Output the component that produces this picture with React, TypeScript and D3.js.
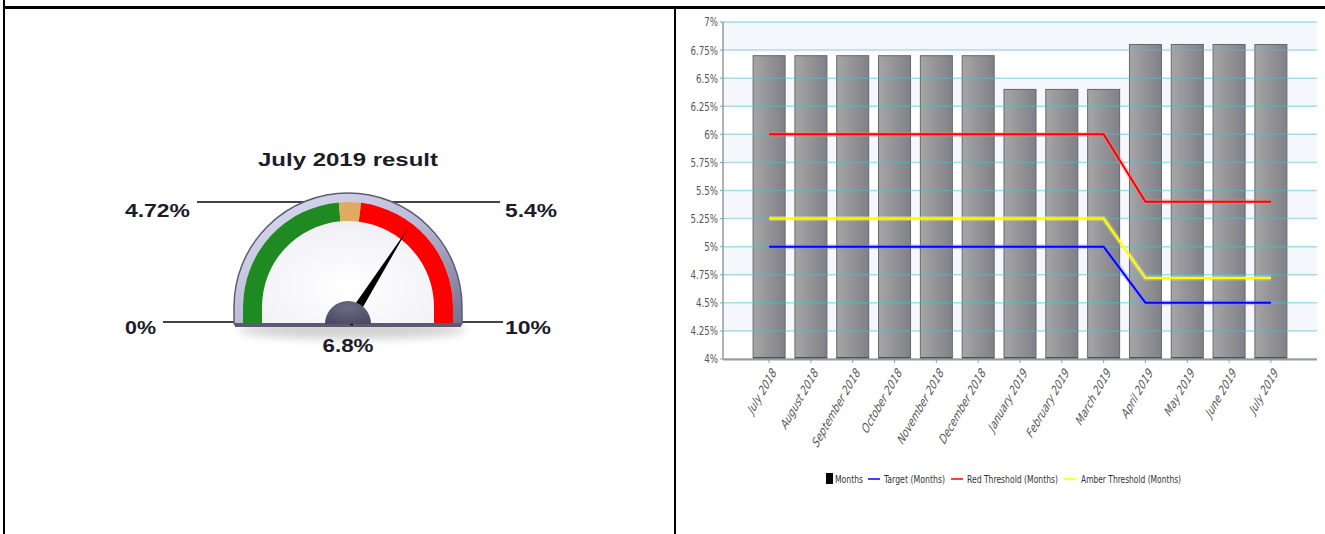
import React from "react";
import * as d3 from "d3";

// ---------- Data ----------
const months = [
  "July 2018", "August 2018", "September 2018", "October 2018", "November 2018",
  "December 2018", "January 2019", "February 2019", "March 2019", "April 2019",
  "May 2019", "June 2019", "July 2019",
];
const monthValues = [6.7, 6.7, 6.7, 6.7, 6.7, 6.7, 6.4, 6.4, 6.4, 6.8, 6.8, 6.8, 6.8];
const targetValues = [5, 5, 5, 5, 5, 5, 5, 5, 5, 4.5, 4.5, 4.5, 4.5];
const redValues = [6, 6, 6, 6, 6, 6, 6, 6, 6, 5.4, 5.4, 5.4, 5.4];
const amberValues = [5.25, 5.25, 5.25, 5.25, 5.25, 5.25, 5.25, 5.25, 5.25, 4.72, 4.72, 4.72, 4.72];
const yTicks = [4, 4.25, 4.5, 4.75, 5, 5.25, 5.5, 5.75, 6, 6.25, 6.5, 6.75, 7];
const legendItems = ["Months", "Target (Months)", "Red Threshold (Months)", "Amber Threshold (Months)"];

const gaugeTitle = "July 2019 result";
const gaugeMin = 0;
const gaugeMax = 10;
const gaugeAmber = 4.72;
const gaugeRed = 5.4;
const gaugeValue = 6.8;

const CONDENSED = "'DejaVu Sans Condensed', 'DejaVu Sans', sans-serif";
const ARIAL = "'Liberation Sans', Arial, sans-serif";

function BarChart() {
  const left = 723, right = 1317, top = 22, bottom = 359;
  const x = d3.scaleBand<string>().domain(months).range([left, right]).paddingInner(0.235).paddingOuter(0.72);
  const y = d3.scaleLinear().domain([4, 7]).range([bottom, top]);
  const cx = (m: string) => (x(m) as number) + x.bandwidth() / 2;
  const line = d3.line<number>().x((_, i) => cx(months[i])).y((v) => y(v));
  const series = [
    { vals: redValues, color: "#ff0000", glow: "#ff8080" },
    { vals: amberValues, color: "#ffff00", glow: "#ffff90" },
    { vals: targetValues, color: "#0000ff", glow: "#8080ff" },
  ];
  const lineColors = ["#0000ff", "#ff0000", "#ffff00"];
  const legendX = [835, 884, 967, 1081];
  const legendLen = [28, 61, 91, 100];
  const legendLineX = [868, 951, 1064];
  return (
    <g>
      <defs>
        <linearGradient id="barGrad" x1="0" x2="1" y1="0" y2="0">
          <stop offset="0" stopColor="#a2a2a2" />
          <stop offset="1" stopColor="#7a7a82" />
        </linearGradient>
      </defs>
      {yTicks.slice(0, -1).map((t, i) => {
        const topBandIdx = yTicks.length - 2 - i;
        return topBandIdx % 2 === 0 ? (
          <rect key={"b" + i} x={left} y={y(yTicks[i + 1])} width={right - left} height={y(t) - y(yTicks[i + 1])} fill="#f5f7fd" />
        ) : null;
      })}
      {monthValues.map((v, i) => (
        <g key={"bar" + i}>
          <rect x={x(months[i])} y={y(v)} width={x.bandwidth()} height={y(4) - y(v)} fill="url(#barGrad)" stroke="#5e5e66" strokeWidth={1} opacity={0.95} />
          <rect x={x(months[i])} y={y(4) - 2} width={x.bandwidth()} height={2} fill="#505058" />
        </g>
      ))}
      {yTicks.map((t) => (
        <line key={"g" + t} x1={left} x2={right} y1={y(t)} y2={y(t)} stroke="#4cc0d4" strokeOpacity={0.5} strokeWidth={1.5} />
      ))}
      <line x1={left} x2={left} y1={top} y2={bottom} stroke="#999" strokeWidth={1.5} />
      <line x1={left} x2={right} y1={bottom + 0.5} y2={bottom + 0.5} stroke="#9a9a9a" strokeWidth={2} />
      {yTicks.map((t) => (
        <g key={"yt" + t}>
          <line x1={left - 3} x2={left} y1={y(t)} y2={y(t)} stroke="#999" />
          <text transform={`translate(${left - 5},${y(t)}) scale(0.92,1.2)`} dy="0.35em" textAnchor="end" fontFamily={CONDENSED} fontSize={10.5} fill="#555">
            {String(t) + "%"}
          </text>
        </g>
      ))}
      {months.map((m) => (
        <g key={"xt" + m}>
          <line x1={cx(m)} x2={cx(m)} y1={bottom + 1} y2={bottom + 4} stroke="#999" />
          <text transform={`translate(${cx(m) + 5},${bottom + 11}) rotate(-60) skewX(-14)`} textAnchor="end" dy="0.35em" fontFamily={CONDENSED} fontStyle="oblique" fontSize={11.5} fill="#555">
            {m}
          </text>
        </g>
      ))}
      {series.map((s, i) => (
        <g key={"ln" + i}>
          <path d={line(s.vals) as string} fill="none" stroke={s.glow} strokeOpacity={0.35} strokeWidth={5} />
          <path d={line(s.vals) as string} fill="none" stroke={s.color} strokeWidth={2} />
        </g>
      ))}
      <rect x={826} y={473} width={7} height={11} fill="#000" />
      {legendItems.map((t, i) => (
        <text key={"lg" + i} x={legendX[i]} y={483} fontFamily={CONDENSED} fontSize={11} fill="#333" textLength={legendLen[i]} lengthAdjust="spacingAndGlyphs">
          {t}
        </text>
      ))}
      {legendLineX.map((lx, i) => (
        <line key={"ll" + i} x1={lx} x2={lx + 12} y1={479} y2={479} stroke={lineColors[i]} strokeWidth={1.5} />
      ))}
    </g>
  );
}

function Gauge() {
  const cx = 348, cy = 307, baseY = 324;
  const R = 114, rOut = 105, rIn = 86;
  const ang = d3.scaleLinear().domain([gaugeMin, gaugeMax]).range([-Math.PI / 2, Math.PI / 2]);
  const arc = d3.arc<any>();
  const band = (a: number, b: number) => arc({ innerRadius: rIn, outerRadius: rOut, startAngle: ang(a), endAngle: ang(b) }) as string;
  const bezel = `M${cx - R},${baseY - 2} L${cx - R},${cy} A${R},${R} 0 0 1 ${cx + R},${cy} L${cx + R},${baseY - 2} Q${cx + R},${baseY + 2} ${cx + R - 4},${baseY + 2} L${cx - R + 4},${baseY + 2} Q${cx - R},${baseY + 2} ${cx - R},${baseY - 2} Z`;
  const face = `M${cx - rOut},${baseY} L${cx - rOut},${cy} A${rOut},${rOut} 0 0 1 ${cx + rOut},${cy} L${cx + rOut},${baseY} Z`;
  const a = ang(gaugeValue);
  const px = cx, py = baseY - 1, L = 112, w = 5;
  const tipX = px + L * Math.sin(a), tipY = py - L * Math.cos(a);
  const bx1 = px + w * Math.cos(a), by1 = py + w * Math.sin(a);
  const bx2 = px - w * Math.cos(a), by2 = py - w * Math.sin(a);
  return (
    <g>
      <defs>
        <linearGradient id="bezelGrad" x1="0" y1="0" x2="1" y2="1">
          <stop offset="0" stopColor="#e0e0f6" />
          <stop offset="0.5" stopColor="#bcbcd8" />
          <stop offset="1" stopColor="#70708c" />
        </linearGradient>
        <radialGradient id="faceGrad" cx="0.5" cy="0.7" r="0.7">
          <stop offset="0" stopColor="#ffffff" />
          <stop offset="0.6" stopColor="#f4f4f8" />
          <stop offset="1" stopColor="#e6e6ee" />
        </radialGradient>
        <radialGradient id="hubGrad" cx="0.5" cy="0.3" r="0.8">
          <stop offset="0" stopColor="#6a6a82" />
          <stop offset="1" stopColor="#484860" />
        </radialGradient>
        <filter id="shadow" x="-20%" y="-20%" width="140%" height="160%">
          <feGaussianBlur stdDeviation="5" />
        </filter>
      </defs>
      <text x={cx} y={166} textAnchor="middle" fontFamily={ARIAL} fontWeight="bold" fontSize={19} fill="#1c1c28" textLength={180} lengthAdjust="spacingAndGlyphs">
        {gaugeTitle}
      </text>
      <line x1={197} x2={500} y1={202} y2={202} stroke="#444" strokeWidth={2} />
      <line x1={163} x2={237} y1={322} y2={322} stroke="#444" strokeWidth={2} />
      <line x1={462} x2={503} y1={322} y2={322} stroke="#444" strokeWidth={2} />
      <ellipse cx={cx + 4} cy={baseY + 6} rx={R} ry={9} fill="#000" opacity={0.18} filter="url(#shadow)" />
      <path d={bezel} fill="url(#bezelGrad)" stroke="#5c5c74" strokeWidth={1.5} />
      <path d={face} fill="url(#faceGrad)" />
      <path d={band(gaugeMin, gaugeAmber)} transform={`translate(${cx},${cy})`} fill="#1f8a22" />
      <path d={band(gaugeAmber, gaugeRed)} transform={`translate(${cx},${cy})`} fill="#e0aa60" />
      <path d={band(gaugeRed, gaugeMax)} transform={`translate(${cx},${cy})`} fill="#ff0000" />
      <rect x={cx - rOut} y={cy - 0.5} width={rOut - rIn} height={baseY - cy} fill="#1f8a22" />
      <rect x={cx + rIn} y={cy - 0.5} width={rOut - rIn} height={baseY - cy} fill="#ff0000" />
      <rect x={cx - R + 1} y={baseY - 1} width={2 * R - 2} height={4} fill="#5a5a72" />
      <path d={`M${bx1},${by1} L${tipX},${tipY} L${bx2},${by2} Z`} fill="#000" />
      <path d={`M${cx - 23},${baseY} A23,23 0 0 1 ${cx + 23},${baseY} Z`} fill="url(#hubGrad)" />
      <text x={125} y={217} fontFamily={ARIAL} fontWeight="bold" fontSize={19} fill="#1c1c28" textLength={65} lengthAdjust="spacingAndGlyphs">{`${gaugeAmber}%`}</text>
      <text x={505} y={217} fontFamily={ARIAL} fontWeight="bold" fontSize={19} fill="#1c1c28" textLength={52} lengthAdjust="spacingAndGlyphs">{`${gaugeRed}%`}</text>
      <text x={125} y={334} fontFamily={ARIAL} fontWeight="bold" fontSize={19} fill="#1c1c28" textLength={31} lengthAdjust="spacingAndGlyphs">{`${gaugeMin}%`}</text>
      <text x={505} y={334} fontFamily={ARIAL} fontWeight="bold" fontSize={19} fill="#1c1c28" textLength={46} lengthAdjust="spacingAndGlyphs">{`${gaugeMax}%`}</text>
      <text x={cx} y={352} textAnchor="middle" fontFamily={ARIAL} fontWeight="bold" fontSize={19} fill="#1c1c28" textLength={51} lengthAdjust="spacingAndGlyphs">{`${gaugeValue}%`}</text>
    </g>
  );
}

export default function App() {
  return (
    <svg width={1325} height={534} style={{ position: "absolute", left: 0, top: 0, background: "#fff" }}>
      <rect x={0} y={0} width={1325} height={534} fill="#fff" />
      <rect x={4} y={6} width={1321} height={3} fill="#000" />
      <rect x={3} y={0} width={2} height={534} fill="#000" />
      <rect x={674} y={8} width={2} height={526} fill="#000" />
      <Gauge />
      <BarChart />
    </svg>
  );
}
